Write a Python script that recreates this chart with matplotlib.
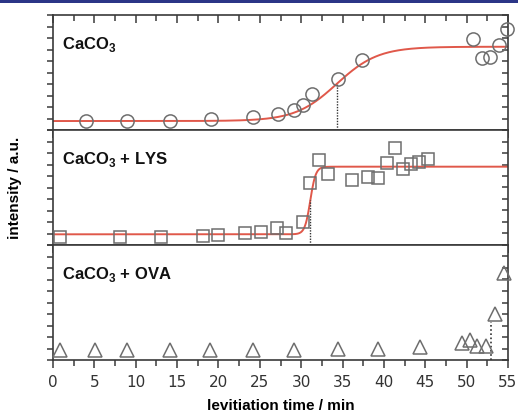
import numpy as np
import matplotlib
matplotlib.use('Agg')
import matplotlib.pyplot as plt
from matplotlib.patches import Rectangle
from matplotlib.ticker import MultipleLocator

# CaCO3 (circles)
t_caco3 = [4.0, 9.0, 14.1, 19.1, 24.2, 27.2, 29.1, 30.2, 31.3, 34.4, 37.4, 50.8, 51.8, 52.8, 53.9, 54.9]
i_caco3 = [0.81, 0.81, 0.81, 0.93, 1.10, 1.37, 1.74, 2.17, 3.10, 4.43, 6.09, 7.91, 6.23, 6.32, 7.39, 8.76]

# CaCO3 + LYS (squares)
t_lys = [0.9, 8.1, 13.1, 18.1, 20.0, 23.2, 25.2, 27.1, 28.2, 30.2, 31.1, 32.2, 33.3,
         36.2, 38.1, 39.3, 40.4, 41.3, 42.3, 43.3, 44.2, 45.3]
i_lys = [0.72, 0.72, 0.72, 0.78, 0.87, 1.02, 1.10, 1.45, 1.07, 2.03, 5.37, 7.39, 6.17,
         5.65, 5.89, 5.80, 7.16, 8.41, 6.58, 7.02, 7.24, 7.48]

# CaCO3 + OVA (triangles)
t_ova = [0.9, 5.1, 8.9, 14.1, 19.0, 24.2, 29.1, 34.4, 39.3, 44.4, 49.4, 50.4, 51.3, 52.4, 53.4, 54.5]
i_ova = [0.87, 0.87, 0.87, 0.87, 0.87, 0.87, 0.87, 1.0, 0.93, 1.16, 1.48, 1.78, 1.22, 1.22, 4.04, 7.57]

# Boltzmann fit parameters (low, high, t0, width)
fit_caco3 = (0.78, 7.24, 34.3, 2.5)
fit_lys = (0.93, 6.81, 31.1, 0.33)
ova_onset = 53.0
ova_onset_top = 3.3

labels = ['CaCO$_\\mathbf{3}$', 'CaCO$_\\mathbf{3}$ + LYS', 'CaCO$_\\mathbf{3}$ + OVA']

plt.rcParams['font.family'] = ['Liberation Sans', 'DejaVu Sans']
plt.rcParams['mathtext.fontset'] = 'custom'
plt.rcParams['mathtext.bf'] = 'Liberation Sans:bold'
plt.rcParams['mathtext.rm'] = 'Liberation Sans'

def boltz(t, p):
    a1, a2, t0, dt = p
    return a2 + (a1 - a2) / (1 + np.exp((t - t0) / dt))

fig = plt.figure(figsize=(5.18, 4.16), dpi=100)
W, H = 518, 416
left, right = 53, 508
tops = [15, 130, 245]
ph = 115
axes = []
for top in tops:
    ax = fig.add_axes([left / W, 1 - (top + ph) / H, (right - left) / W, ph / H])
    axes.append(ax)

gray = '#6e6e6e'
red = '#e0584a'
spine_c = '#3a3a3a'
tt = np.linspace(0, 55, 600)

ax = axes[0]
ax.plot(tt, boltz(tt, fit_caco3), color=red, lw=1.4, zorder=2)
ax.plot(t_caco3, i_caco3, 'o', ms=9.5, mfc='none', mec=gray, mew=1.1, zorder=3, clip_on=False)
ax.vlines(fit_caco3[2], 0, boltz(fit_caco3[2], fit_caco3), colors='#333333', linestyles=(0, (1, 1)), lw=1)

ax = axes[1]
ax.plot(tt, boltz(tt, fit_lys), color=red, lw=1.4, zorder=2)
ax.plot(t_lys, i_lys, 's', ms=8.5, mfc='none', mec=gray, mew=1.1, zorder=3, clip_on=False)
ax.vlines(fit_lys[2], 0, boltz(fit_lys[2], fit_lys), colors='#333333', linestyles=(0, (1, 1)), lw=1)

ax = axes[2]
ax.plot(t_ova, i_ova, '^', ms=10.5, mfc='none', mec=gray, mew=1.1, zorder=3, clip_on=False)
ax.vlines(ova_onset, 0, ova_onset_top, colors='#333333', linestyles=(0, (1, 1.5)), lw=1.2)

for i, ax in enumerate(axes):
    ax.set_xlim(0, 55)
    ax.set_ylim(0, 10)
    for s in ax.spines.values():
        s.set_color(spine_c)
        s.set_linewidth(1.2)
    ax.xaxis.set_major_locator(MultipleLocator(5))
    ax.xaxis.set_minor_locator(MultipleLocator(2.5))
    ax.yaxis.set_major_locator(MultipleLocator(1))
    ax.tick_params(axis='x', which='both', direction='out', bottom=True, top=False,
                   color=spine_c, width=1.1)
    ax.tick_params(axis='x', which='major', length=6)
    ax.tick_params(axis='x', which='minor', length=4)
    ax.tick_params(axis='y', which='major', direction='out', left=True, right=False,
                   length=4, width=1.1, color=spine_c, labelleft=False)
    sec = ax.secondary_yaxis('right')
    sec.yaxis.set_major_locator(MultipleLocator(1))
    sec.tick_params(direction='in', length=4, width=1.1, color=spine_c, labelright=False)
    sec.spines['right'].set_visible(False)
    ax.text(0.02, 0.74, labels[i], transform=ax.transAxes, fontsize=12,
            fontweight='bold', va='center', ha='left', color='#111111')
    if i < 2:
        ax.tick_params(axis='x', labelbottom=False)
    else:
        ax.tick_params(axis='x', labelsize=11, labelcolor='#333333', pad=5)
        for lab in ax.get_xticklabels():
            lab.set_family('DejaVu Sans')

top_sec = axes[0].secondary_xaxis('top')
top_sec.xaxis.set_major_locator(MultipleLocator(5))
top_sec.xaxis.set_minor_locator(MultipleLocator(2.5))
top_sec.tick_params(which='both', direction='in', color=spine_c, width=1.1, labeltop=False)
top_sec.tick_params(which='major', length=6)
top_sec.tick_params(which='minor', length=4)
top_sec.spines['top'].set_visible(False)

axes[2].set_xlabel('levitiation time / min', fontsize=11, fontweight='bold', labelpad=6)
fig.text(15 / W, 1 - 188 / H, 'intensity / a.u.', rotation=90, fontsize=11,
         fontweight='bold', ha='center', va='center')

fig.add_artist(Rectangle((0, 1 - 3 / H), 1, 3 / H, transform=fig.transFigure,
                         color='#2b3587', lw=0))

fig.savefig('out.png', dpi=100)
